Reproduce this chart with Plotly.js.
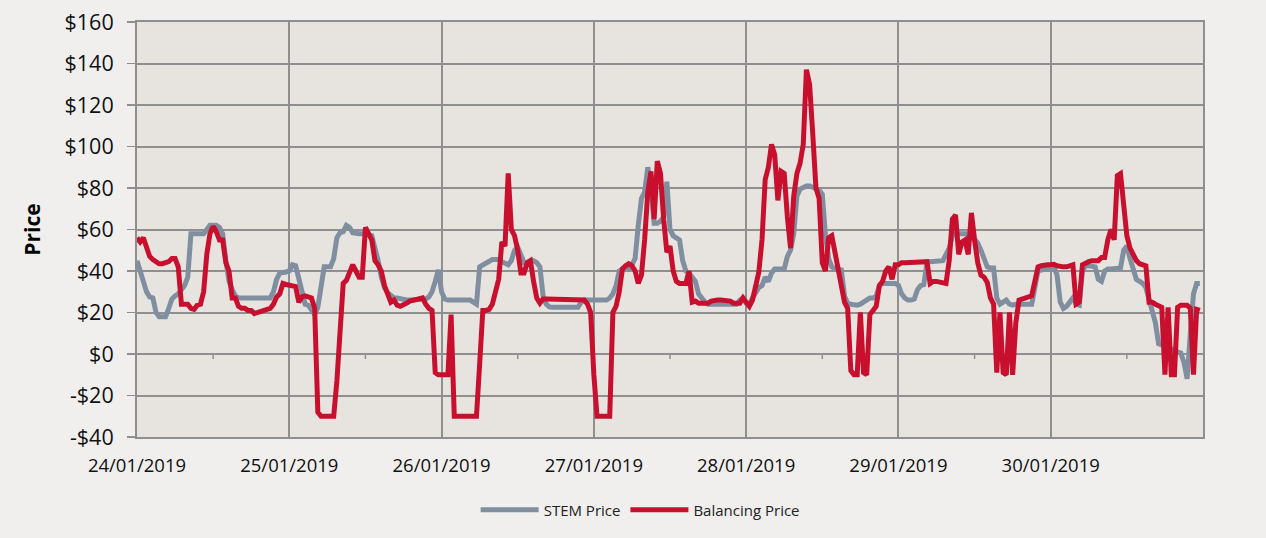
<!DOCTYPE html>
<html>
<head>
<meta charset="utf-8">
<script src="https://cdn.plot.ly/plotly-3.0.1.min.js"></script>
<style>
html,body{margin:0;padding:0;background:#f0efed;}
#chart{width:1266px;height:538px;}
</style>
</head>
<body>
<div id="chart"></div>
<script>
// Days shown (half-hourly trading intervals, 48 per day)
const days = ['2019-01-24','2019-01-25','2019-01-26','2019-01-27','2019-01-28','2019-01-29','2019-01-30'];
const dayLabels = ['24/01/2019','25/01/2019','26/01/2019','27/01/2019','28/01/2019','29/01/2019','30/01/2019'];

// STEM Price ($/MWh), half-hourly
const stemDay1 = [45,40,35,30,27.5,27,20,18,18,18, 22,26.5,28,29,31,33,37,58,58,58, 58,58,60,62,62,62,61,58,45,35, 31,28,27,27,27,27,27,27,27,27, 27,27,27,30,36,39,39,39.5];
const stemDay2 = [40,43,42.5,36,28,24,23.5,21,19,22.5, 32,42,42,42,46,56,58.5,59,62,61, 58.5,58,58,58,58,57.5,57,52,45,37, 32,29.5,28,27,27,26.5,26,26,26,26, 26,26,26,26.5,27.5,30,35,40.5];
const stemDay3 = [30,26.5,26,26,26,26,26,26,26,26, 25,24,42,43,43.5,44.5,45.5,45.5,45.5,44.5, 43.5,43,45,50,51.5,47,44,44,45,45, 44,42,28,24,22.7,22.5,22.5,22.5,22.5,22.5, 22.5,22.5,22.5,22.5,25,26,26,26];
const stemDay4 = [26,26,26,26,26,27,29,33,40,41, 41,41,43,46,62,75,78,90,80,63, 63,64,66,83,60,57,56,55,45,40, 39,37,35,29,26.5,25,24,24,24,24, 24,24,24,24,24,24,26,27];
const stemDay5 = [24.5,24,27,30,32,33,37,35,39,41, 41,41,41,47,50,58,76,79.5,80.5,81, 81,80.5,80,79,77,57,46,42,41,41, 40.5,28,24.5,24,23.5,23.5,24,25,26.5,27, 27,28,33,34,34,34,34,34];
const stemDay6 = [33,29,27,26,26,26.5,31,33,33.5,44, 44.5,44.5,44.5,44.5,45,48,51,57,58,58, 58,58,58,57,55,53.5,50,46,42,41.5, 41.5,27,24,25,26,24,23.5,24,24,24, 24,24,24,32,40,40.5,40.5,41];
const stemDay7 = [42.5,42,38,25,22,23,25,27,24,23.5, 40,42.5,42.5,42.5,42,36,35,40,41,41, 41,41,41.5,50,52,46,40,36,35,34, 32,27,21,15,5,4.5,4,3.5,2.5,1.5, 1,0.5,-4,-12,10,29,34,34];

// Balancing Price ($/MWh), half-hourly
const balDay1 = [56,54,56,51,47,45.5,44.5,43.5,43.5,44, 44.5,46,46,42,24,24,24,22,21.5,23.5, 24,30,48,58,61.5,59,55,55,44,40, 27,27,23,22,22,21,21,19.5,20,21, 21.5,22,22,24,27.5,29,34,33.5];
const balDay2 = [33,33,32.5,25,27.5,28,27.5,27,22,-28, -30,-30,-30,-30,-30,-13,12,34,35.5,40, 43,40,37,37,61,58,55,45,43,40, 33,29,25,26,23.5,23,23.5,24.5,25.5,26, 26.5,26.5,27,24,22,21,-9,-10];
const balDay3 = [-10,-10,-10,19,-30,-30,-30,-30,-30,-30, -30,-30,-5,21,21,21.5,24,31,36,54, 52,87,60,57,50,39,39,44,45,35, 27,24.5,26.5,26.5,26.5,26.5,26.5,26.5,26.5,26.5, 26.5,26.5,26.5,26.5,26.5,26,24,20];
const balDay4 = [-10,-30,-30,-30,-30,-30,20,23,30,41, 42.5,43.5,42.5,40,34,38,55,78,88,65, 93,87,65,49,52,40,35,34,34,34, 40,25,25.5,24.5,24.5,24.5,24.5,25.5,26,26, 26,26,26,25.5,24.5,24.5,24.5,27];
const balDay5 = [25,23,26,32,39.5,55,84,90,101,96, 74,88,87,66,51,76,87,92,101,137, 130,106,80,75,44,40,56,57,49,44, 36,25,22,-8,-10,-10,20,-9,-10,19, 21,23,33,35,40,42,36,43];
const balDay6 = [43,44,44,44,44,44.5,44.5,44.5,44.5,44.5, 34,35,35,34.5,34.5,34,45,65,67,48, 54,55,48,68,55,44,38,37,34.5,27, 24,-9,20,-9,-10,20,-10,15,26,26.5, 27,27,28,35,42,42.5,43,43];
const balDay7 = [43,43.2,42.5,42,42,42,42.5,43,24,25, 43,44,44.5,45,45,45,46.5,46.5,55,60, 55,86,87,70,57,51,47.5,45,43.5,43, 42.5,25,25,24,23.5,22.5,-10,22.5,-10,-10, 22.5,23.5,23.5,23.5,22,-10,21.5,21];

const yTickVals = [-40,-20,0,20,40,60,80,100,120,140,160];
const yTickText = ['-$40','-$20','$0','$20','$40','$60','$80','$100','$120','$140','$160'];

const stem = [].concat(stemDay1,stemDay2,stemDay3,stemDay4,stemDay5,stemDay6,stemDay7);
const bal = [].concat(balDay1,balDay2,balDay3,balDay4,balDay5,balDay6,balDay7);

const times = [];
days.forEach(function(d){
  for (let k = 0; k < 48; k++) {
    const h = String(Math.floor(k/2)).padStart(2,'0');
    times.push(d + ' ' + h + ':' + (k % 2 ? '30' : '00'));
  }
});

const FONT = '"Open Sans", "Noto Sans", sans-serif';
const GRID = '#8f8f8f';

const traces = [
  {x: times, y: stem, type: 'scatter', mode: 'lines', name: 'STEM Price',
   line: {color: '#7f8fa0', width: 5}, hoverinfo: 'x+y'},
  {x: times, y: bal, type: 'scatter', mode: 'lines', name: 'Balancing Price',
   line: {color: '#c8102e', width: 5}, hoverinfo: 'x+y'}
];

// small minor ticks at midday on the zero line (category axis crossing)
const noonTicks = days.map(function(d){
  return {type: 'line', xref: 'x', yref: 'y', ysizemode: 'pixel', yanchor: 0,
          x0: d + ' 12:00', x1: d + ' 12:00', y0: 0, y1: -5,
          line: {color: GRID, width: 1.5}, layer: 'below'};
});

const layout = {
  width: 1266, height: 538,
  margin: {l: 137, r: 63, t: 22, b: 101},
  paper_bgcolor: '#f0efed',
  plot_bgcolor: '#e7e4e0',
  font: {family: FONT, color: '#111'},
  showlegend: true,
  legend: {orientation: 'h', x: 0.472, xanchor: 'center', y: -0.176, yanchor: 'middle',
           itemwidth: 58,
           font: {family: FONT, size: 15, color: '#222'}, bgcolor: 'rgba(0,0,0,0)'},
  xaxis: {
    type: 'date',
    range: ['2019-01-24 00:00', '2019-01-31 00:00'],
    tickvals: days, ticktext: dayLabels,
    tickfont: {family: FONT, size: 18.5, color: '#111'},
    ticks: '', ticklabelstandoff: 11,
    showgrid: true, gridcolor: GRID, gridwidth: 2,
    showline: true, mirror: true, linecolor: GRID, linewidth: 2,
    zeroline: false, fixedrange: true
  },
  yaxis: {
    range: [-40, 160],
    tickvals: yTickVals, ticktext: yTickText,
    tickfont: {family: FONT, size: 21.5, color: '#111'},
    ticks: 'outside', ticklen: 8, tickcolor: GRID, tickwidth: 1.5,
    ticklabelstandoff: 9,
    showgrid: true, gridcolor: GRID, gridwidth: 2,
    showline: true, mirror: true, linecolor: GRID, linewidth: 2,
    zeroline: false, fixedrange: true,
    title: {text: '<b>Price</b>', font: {family: FONT, size: 21, color: '#000'}, standoff: 18}
  },
  shapes: noonTicks
};

Plotly.newPlot('chart', traces, layout, {displayModeBar: false, staticPlot: true});
</script>
</body>
</html>
